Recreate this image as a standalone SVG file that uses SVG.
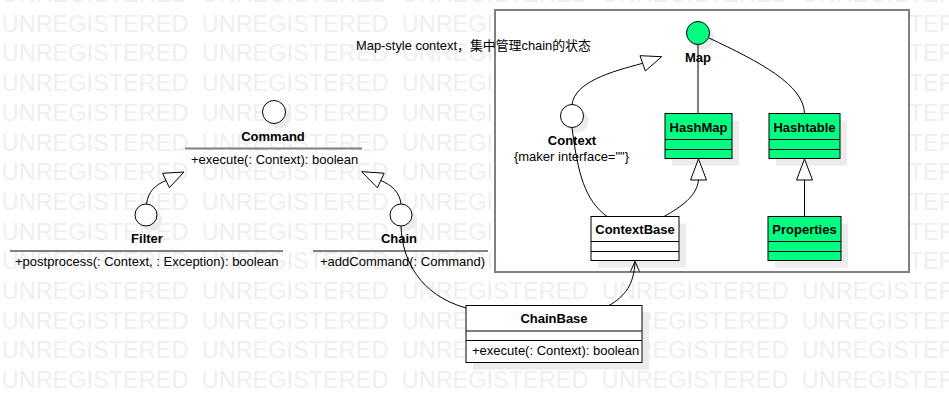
<svg xmlns="http://www.w3.org/2000/svg" width="949" height="402" viewBox="0 0 949 402">
<style>
.wm{font-family:"Liberation Sans",Arial,sans-serif;font-size:23.5px;fill:#efefef}
.t{font-family:"Liberation Sans",Arial,sans-serif;font-size:13px;fill:#000}
.b{font-weight:bold;text-anchor:middle}
.m{text-anchor:middle}
.note{font-family:"Liberation Sans",Arial,"Noto Sans CJK SC",sans-serif;font-size:12.9px;fill:#000}
.sh{fill:#ececec}
.box{fill:#fff;stroke:#000;stroke-width:1}
.gbox{fill:#00ff80;stroke:#000;stroke-width:1}
.div{stroke:#000;stroke-width:1}
.idiv{stroke:#808080;stroke-width:2}
.ln{fill:none;stroke:#000;stroke-width:1}
.tri{fill:#fff;stroke:#000;stroke-width:1}
</style>
<defs>
<g id="wmrow">
<text class="wm" x="1.7" y="0">UNREGISTERED</text>
<text class="wm" x="201.7" y="0">UNREGISTERED</text>
<text class="wm" x="401.7" y="0">UNREGISTERED</text>
<text class="wm" x="601.7" y="0">UNREGISTERED</text>
<text class="wm" x="801.7" y="0">UNREGISTERED</text>
</g>
</defs>
<rect width="949" height="402" fill="#fff"/>
<g id="watermark">
<use href="#wmrow" y="2"/>
<use href="#wmrow" y="31.7"/>
<use href="#wmrow" y="61.4"/>
<use href="#wmrow" y="91.1"/>
<use href="#wmrow" y="120.8"/>
<use href="#wmrow" y="150.5"/>
<use href="#wmrow" y="180.2"/>
<use href="#wmrow" y="209.9"/>
<use href="#wmrow" y="239.6"/>
<use href="#wmrow" y="269.3"/>
<use href="#wmrow" y="299"/>
<use href="#wmrow" y="328.7"/>
<use href="#wmrow" y="358.4"/>
<use href="#wmrow" y="388.1"/>
</g>
<g id="frame">
<rect x="495" y="10" width="414" height="262" fill="#fff" stroke="#808080" stroke-width="2"/>
</g>
<g id="note">
<text class="note" x="356" y="50">Map-style context，集中管理chain的状态</text>
</g>
<g id="command">
<circle class="sh" cx="279" cy="117" r="11.5"/>
<circle cx="274" cy="112" r="11.5" fill="#fff" stroke="#000"/>
<text class="t b" x="273" y="141">Command</text>
<line class="idiv" x1="185" y1="148.5" x2="362" y2="148.5"/>
<text class="t" x="191" y="163.5">+execute(: Context): boolean</text>
</g>
<g id="filter">
<circle class="sh" cx="151" cy="220" r="11"/>
<circle cx="146" cy="215" r="11" fill="#fff" stroke="#000"/>
<text class="t b" x="147" y="243">Filter</text>
<line class="idiv" x1="10" y1="251" x2="283" y2="251"/>
<text class="t" x="15" y="266">+postprocess(: Context, : Exception): boolean</text>
</g>
<g id="chain">
<circle class="sh" cx="406" cy="220" r="11"/>
<circle cx="401" cy="215" r="11" fill="#fff" stroke="#000"/>
<text class="t b" x="399" y="243">Chain</text>
<line class="idiv" x1="313" y1="251" x2="488" y2="251"/>
<text class="t" x="320" y="266">+addCommand(: Command)</text>
</g>
<g id="context">
<circle class="sh" cx="577" cy="121" r="11.5"/>
<circle cx="572" cy="116" r="11.5" fill="#fff" stroke="#000"/>
<text class="t b" x="572" y="145">Context</text>
<text class="t m" x="571.5" y="160.5">{maker interface=""}</text>
</g>
<g id="map">
<circle class="sh" cx="703" cy="38" r="11.5"/>
<circle cx="698" cy="33" r="11.5" fill="#00ff80" stroke="#000"/>
<text class="t b" x="698" y="62">Map</text>
</g>
<g id="hashmap">
<rect class="sh" x="672" y="120.5" width="67" height="45"/>
<rect class="gbox" x="665" y="113.5" width="67" height="45"/>
<line class="div" x1="665" y1="139.5" x2="732" y2="139.5"/>
<line class="div" x1="665" y1="149.5" x2="732" y2="149.5"/>
<text class="t b" x="698.5" y="132">HashMap</text>
</g>
<g id="hashtable">
<rect class="sh" x="776" y="120.5" width="71" height="45"/>
<rect class="gbox" x="769" y="113.5" width="71" height="45"/>
<line class="div" x1="769" y1="139.5" x2="840" y2="139.5"/>
<line class="div" x1="769" y1="149.5" x2="840" y2="149.5"/>
<text class="t b" x="804.5" y="132">Hashtable</text>
</g>
<g id="contextbase">
<rect class="sh" x="598" y="223.5" width="88" height="44"/>
<rect class="box" x="591" y="216.5" width="88" height="44"/>
<line class="div" x1="591" y1="241.5" x2="679" y2="241.5"/>
<line class="div" x1="591" y1="251.5" x2="679" y2="251.5"/>
<text class="t b" x="635" y="233.5">ContextBase</text>
</g>
<g id="properties">
<rect class="sh" x="775" y="223.5" width="73" height="44"/>
<rect class="gbox" x="768" y="216.5" width="73" height="44"/>
<line class="div" x1="768" y1="241.5" x2="841" y2="241.5"/>
<line class="div" x1="768" y1="251.5" x2="841" y2="251.5"/>
<text class="t b" x="804.5" y="233.5">Properties</text>
</g>
<g id="chainbase">
<rect class="sh" x="473" y="312.5" width="176" height="57"/>
<rect class="box" x="466" y="305.5" width="176" height="57"/>
<line class="div" x1="466" y1="331" x2="642" y2="331"/>
<line class="div" x1="466" y1="340.5" x2="642" y2="340.5"/>
<text class="t b" x="554" y="322.5">ChainBase</text>
<text class="t" x="472" y="355">+execute(: Context): boolean</text>
</g>
<g id="connectors">
<path class="ln" d="M146.5,204 C148,192 155,185 166,180.5"/>
<polygon class="tri" points="184,172 162.6,173.3 169.4,187.7"/>
<path class="ln" d="M401,204 C400,193 392,185 380.8,180.5"/>
<polygon class="tri" points="361.7,171.7 384.2,173.2 377.4,187.8"/>
<path class="ln" d="M401,226 C402,260 420,295 466,308"/>
<path class="ln" d="M609,305.5 C625,296 634,285 635,261.5"/>
<path class="ln" d="M630.5,271.5 L635,261.5 L639.5,271.5"/>
<path class="ln" d="M572,104.5 C575,82 610,72 642.7,63.3"/>
<polygon class="tri" points="661.7,56.7 640,55.7 645.3,71"/>
<path class="ln" d="M572,127.5 C578,175 585,200 607,216.5"/>
<path class="ln" d="M698,44.5 L698,113.5"/>
<path class="ln" d="M709,38 C760,62 804,85 804.5,113.5"/>
<polygon class="tri" points="698.5,159 690.5,180 706.5,180"/>
<path class="ln" d="M698.5,180 C697,196 681,207 664,216.5"/>
<polygon class="tri" points="804.5,159 796.5,180 812.5,180"/>
<path class="ln" d="M804.5,180 L804.5,216.5"/>
</g>
</svg>
